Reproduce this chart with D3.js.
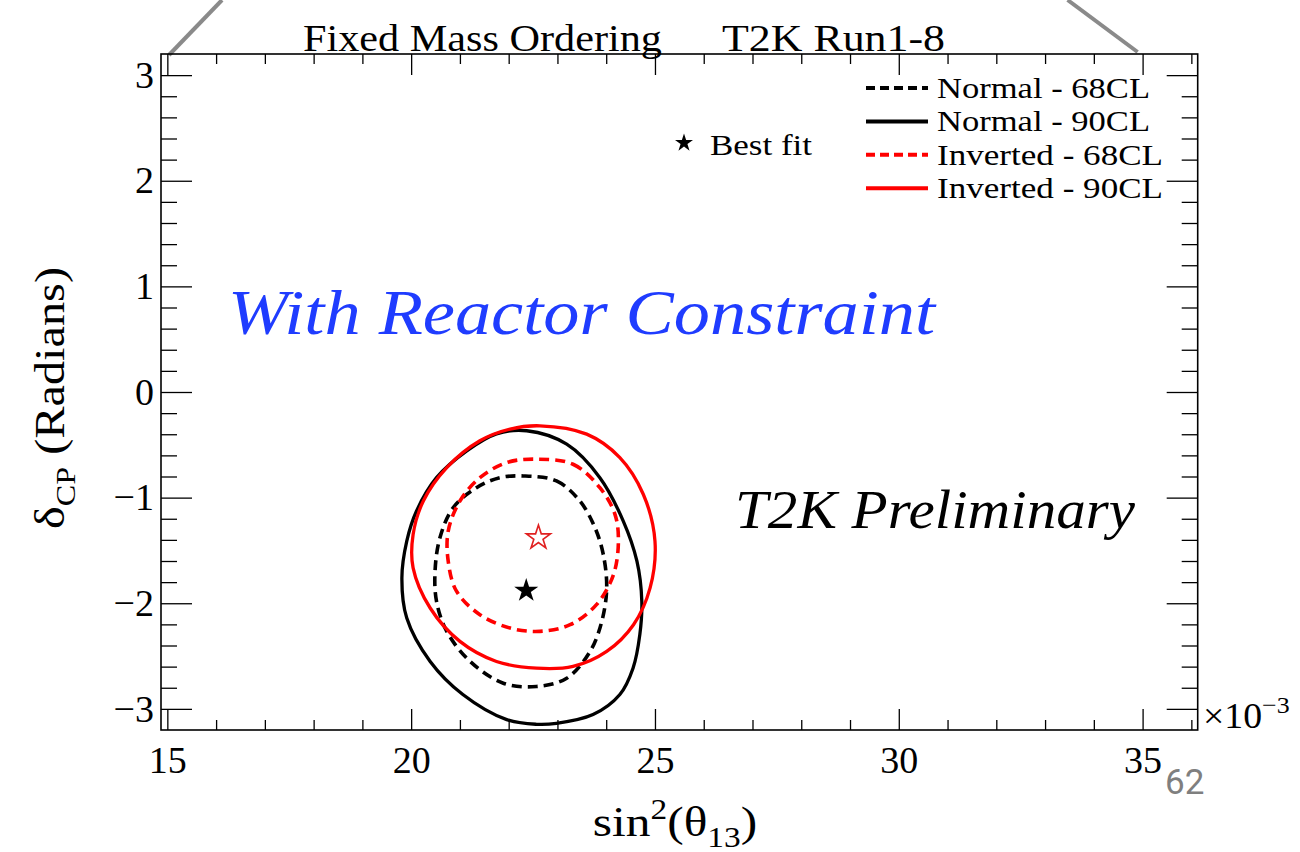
<!DOCTYPE html>
<html>
<head>
<meta charset="utf-8">
<script src="https://cdn.jsdelivr.net/npm/d3@7"></script>
<style>
  html, body { margin: 0; padding: 0; background: #fff; }
  svg { display: block; }
</style>
</head>
<body>
<svg id="chart" width="1300" height="852"></svg>
<script>
// axis ranges (x in units of 1e-3)
const xDomain = [14.87, 36.13];
const yDomain = [-3.2, 3.2];
const xMajorTicks = [15, 20, 25, 30, 35];
const xTickLabels = ["15", "20", "25", "30", "35"];
const yMajorTicks = [-3, -2, -1, 0, 1, 2, 3];
const yTickLabels = ["\u22123", "\u22122", "\u22121", "0", "1", "2", "3"];

// contours: [sin^2(theta13) x 1e3, deltaCP]
const normal68 = [
  [22.30, -0.795], [22.98, -0.842], [23.46, -1.032], [23.77, -1.285], [23.94, -1.538],
  [24.01, -1.855], [23.91, -2.171], [23.67, -2.456], [23.19, -2.710], [22.57, -2.788],
  [21.89, -2.757], [21.21, -2.551], [20.73, -2.266], [20.52, -1.981], [20.49, -1.697],
  [20.59, -1.380], [20.86, -1.096], [21.34, -0.906], [21.82, -0.811]
];
const normal90 = [
  [22.37, -0.367], [23.19, -0.494], [23.87, -0.811], [24.35, -1.222], [24.63, -1.602],
  [24.73, -1.981], [24.69, -2.295], [24.55, -2.615], [24.28, -2.864], [23.73, -3.054],
  [22.98, -3.137], [22.57, -3.146], [21.96, -3.102], [21.06, -2.864], [20.39, -2.551],
  [19.91, -2.140], [19.81, -1.760], [19.91, -1.412], [20.11, -1.127], [20.52, -0.811],
  [21.14, -0.557], [21.75, -0.396]
];
const inverted68 = [
  [22.57, -0.636], [23.32, -0.684], [23.87, -0.906], [24.18, -1.158], [24.25, -1.412],
  [24.15, -1.728], [23.80, -2.013], [23.26, -2.203], [22.64, -2.266], [22.03, -2.235],
  [21.41, -2.108], [20.93, -1.886], [20.76, -1.602], [20.76, -1.317], [21.00, -1.032],
  [21.41, -0.811], [21.96, -0.668]
];
const inverted90 = [
  [22.64, -0.320], [23.60, -0.399], [24.28, -0.621], [24.76, -0.968], [25.00, -1.412],
  [24.90, -1.855], [24.56, -2.203], [24.01, -2.456], [23.32, -2.598], [22.57, -2.615],
  [21.75, -2.551], [21.00, -2.361], [20.39, -2.045], [20.04, -1.665], [20.04, -1.348],
  [20.25, -1.032], [20.73, -0.716], [21.41, -0.462], [22.03, -0.351]
];

// best fit points
const bestFitNormal = [22.36, -1.88];
const bestFitInverted = [22.61, -1.38];

const seriesNames = ["Normal - 68CL", "Normal - 90CL", "Inverted - 68CL", "Inverted - 90CL"];
const seriesColors = ["#000000", "#000000", "#ff0000", "#ff0000"];
const seriesDashed = [true, false, true, false];
const seriesData = [normal68, normal90, inverted68, inverted90];

const FONT = '"Liberation Serif", "DejaVu Serif", serif';
// the slide picture is stretched sideways a little
const STRETCH = 1.15;

const svg = d3.select("#chart");

const frame = { left: 161, right: 1197.7, top: 54, bottom: 730 };

const x = d3.scaleLinear().domain(xDomain).range([frame.left, frame.right]);
const y = d3.scaleLinear().domain(yDomain).range([frame.bottom, frame.top]);

// decorative slide lines coming in from the top
const deco = svg.append("g").attr("stroke", "#8a8a8a").attr("stroke-width", 4).attr("fill", "none");
deco.append("line").attr("x1", frame.left + 8).attr("y1", frame.top + 1).attr("x2", frame.left + 61).attr("y2", 0);
deco.append("line").attr("x1", x(35) - 5).attr("y1", frame.top - 2).attr("x2", x(35) - 75).attr("y2", 0);

// minor ticks
const xMinor = d3.range(15, 37).filter((v) => !xMajorTicks.includes(v));
const yMinor = d3.range(-16, 17).map((v) => v / 5).filter((v) => !yMajorTicks.includes(v) && Math.abs(v) < 3.2);

function styleAxis(g) {
  g.select(".domain").remove();
  g.selectAll("line").attr("stroke", "#000").attr("stroke-width", 1.3);
}

const axes = svg.append("g").attr("class", "axes");

// bottom
axes.append("g")
  .attr("transform", `translate(0,${frame.bottom})`)
  .call(d3.axisBottom(x).tickValues(xMinor).tickSize(-10).tickFormat(""))
  .call(styleAxis);
axes.append("g")
  .attr("transform", `translate(0,${frame.bottom})`)
  .call(d3.axisBottom(x).tickValues(xMajorTicks).tickSize(-21).tickPadding(16)
    .tickFormat((d, i) => xTickLabels[i]))
  .call(styleAxis)
  .call((g) => g.selectAll("text").attr("fill", "#000").style("font-family", FONT).style("font-size", "38px"));

// top
axes.append("g")
  .attr("transform", `translate(0,${frame.top})`)
  .call(d3.axisTop(x).tickValues(xMinor).tickSize(-10).tickFormat(""))
  .call(styleAxis);
axes.append("g")
  .attr("transform", `translate(0,${frame.top})`)
  .call(d3.axisTop(x).tickValues(xMajorTicks).tickSize(-21).tickFormat(""))
  .call(styleAxis);

// left
axes.append("g")
  .attr("transform", `translate(${frame.left},0)`)
  .call(d3.axisLeft(y).tickValues(yMinor).tickSize(-16).tickFormat(""))
  .call(styleAxis);
axes.append("g")
  .attr("transform", `translate(${frame.left},0)`)
  .call(d3.axisLeft(y).tickValues(yMajorTicks).tickSize(-31).tickPadding(7)
    .tickFormat((d, i) => yTickLabels[i]))
  .call(styleAxis)
  .call((g) => g.selectAll("text").attr("fill", "#000").style("font-family", FONT).style("font-size", "38px"));

// right
axes.append("g")
  .attr("transform", `translate(${frame.right},0)`)
  .call(d3.axisRight(y).tickValues(yMinor).tickSize(-16).tickFormat(""))
  .call(styleAxis);
axes.append("g")
  .attr("transform", `translate(${frame.right},0)`)
  .call(d3.axisRight(y).tickValues(yMajorTicks).tickSize(-31).tickFormat(""))
  .call(styleAxis);

// frame
svg.append("rect")
  .attr("x", frame.left).attr("y", frame.top)
  .attr("width", frame.right - frame.left).attr("height", frame.bottom - frame.top)
  .attr("fill", "none").attr("stroke", "#000").attr("stroke-width", 1.6);

// contours
const line = d3.line()
  .x((d) => x(d[0]))
  .y((d) => y(d[1]))
  .curve(d3.curveCatmullRomClosed.alpha(0.5));

svg.append("g")
  .selectAll("path")
  .data(seriesData)
  .enter()
  .append("path")
  .attr("d", (d) => line(d))
  .attr("fill", "none")
  .attr("stroke", (d, i) => seriesColors[i])
  .attr("stroke-width", (d, i) => (seriesDashed[i] ? 3.6 : 3.3))
  .attr("stroke-dasharray", (d, i) => (seriesDashed[i] ? "10,6" : null));

// best fit stars
const star = d3.symbol().type(d3.symbolStar);
svg.append("path")
  .attr("d", star.size(180)())
  .attr("transform", `translate(${x(bestFitNormal[0])},${y(bestFitNormal[1])})`)
  .attr("fill", "#000");
svg.append("path")
  .attr("d", star.size(180)())
  .attr("transform", `translate(${x(bestFitInverted[0])},${y(bestFitInverted[1])})`)
  .attr("fill", "#fff")
  .attr("stroke", "#e02020")
  .attr("stroke-width", 1.6);

// helper for stretched single-line text
function label(px, py, str, size, width, opts = {}) {
  return svg.append("text")
    .attr("x", px).attr("y", py)
    .attr("textLength", width)
    .attr("lengthAdjust", "spacingAndGlyphs")
    .attr("fill", opts.fill || "#000")
    .style("font-family", opts.family || FONT)
    .style("font-style", opts.italic ? "italic" : "normal")
    .style("font-size", size + "px")
    .text(str);
}

// legend
const legendWidths = [213, 213, 226, 226];
seriesNames.forEach((name, i) => {
  const ry = 88 + i * 33.4;
  svg.append("line")
    .attr("x1", 866).attr("x2", 928).attr("y1", ry).attr("y2", ry)
    .attr("stroke", seriesColors[i])
    .attr("stroke-width", 4)
    .attr("stroke-dasharray", seriesDashed[i] ? "9,5" : null);
  label(937, ry + 10, name, 30, legendWidths[i]);
});

svg.append("path")
  .attr("d", star.size(100)())
  .attr("transform", "translate(684,143)")
  .attr("fill", "#000");
label(710, 155, "Best fit", 30, 102);

// titles
label(303, 51, "Fixed Mass Ordering", 38, 359);
label(722, 51, "T2K Run1-8", 38, 223);

// annotations
label(228, 334, "With Reactor Constraint", 64, 707, { fill: "#1f3cff", italic: true });
label(735, 528, "T2K Preliminary", 55, 400, { italic: true });

// axis titles
const xt = svg.append("text")
  .attr("transform", `translate(675,836) scale(${STRETCH},1)`)
  .attr("text-anchor", "middle")
  .style("font-family", FONT).style("font-size", "43px");
xt.append("tspan").text("sin");
xt.append("tspan").attr("dy", -17).style("font-size", "29px").text("2");
xt.append("tspan").attr("dy", 17).text("(\u03b8");
xt.append("tspan").attr("dy", 11).style("font-size", "29px").text("13");
xt.append("tspan").attr("dy", -11).text(")");

const yt = svg.append("text")
  .attr("transform", `translate(64,398) rotate(-90) scale(${STRETCH},1)`)
  .attr("text-anchor", "middle")
  .style("font-family", FONT).style("font-size", "42px");
yt.append("tspan").text("\u03b4");
yt.append("tspan").attr("dy", 11).style("font-size", "28px").text("CP");
yt.append("tspan").attr("dy", -11).text(" (Radians)");

// exponent label
const ex = svg.append("text")
  .attr("transform", "translate(1203,728) scale(1.08,1)")
  .style("font-family", FONT).style("font-size", "35px");
ex.append("tspan").text("\u00d710");
ex.append("tspan").attr("dy", -15).style("font-size", "24px").text("\u22123");

// slide page number
svg.append("text")
  .attr("x", 1165).attr("y", 794)
  .attr("fill", "#7f7f7f")
  .style("font-family", "Roboto, 'Noto Sans', sans-serif").style("font-size", "35px")
  .text("62");
</script>
</body>
</html>
